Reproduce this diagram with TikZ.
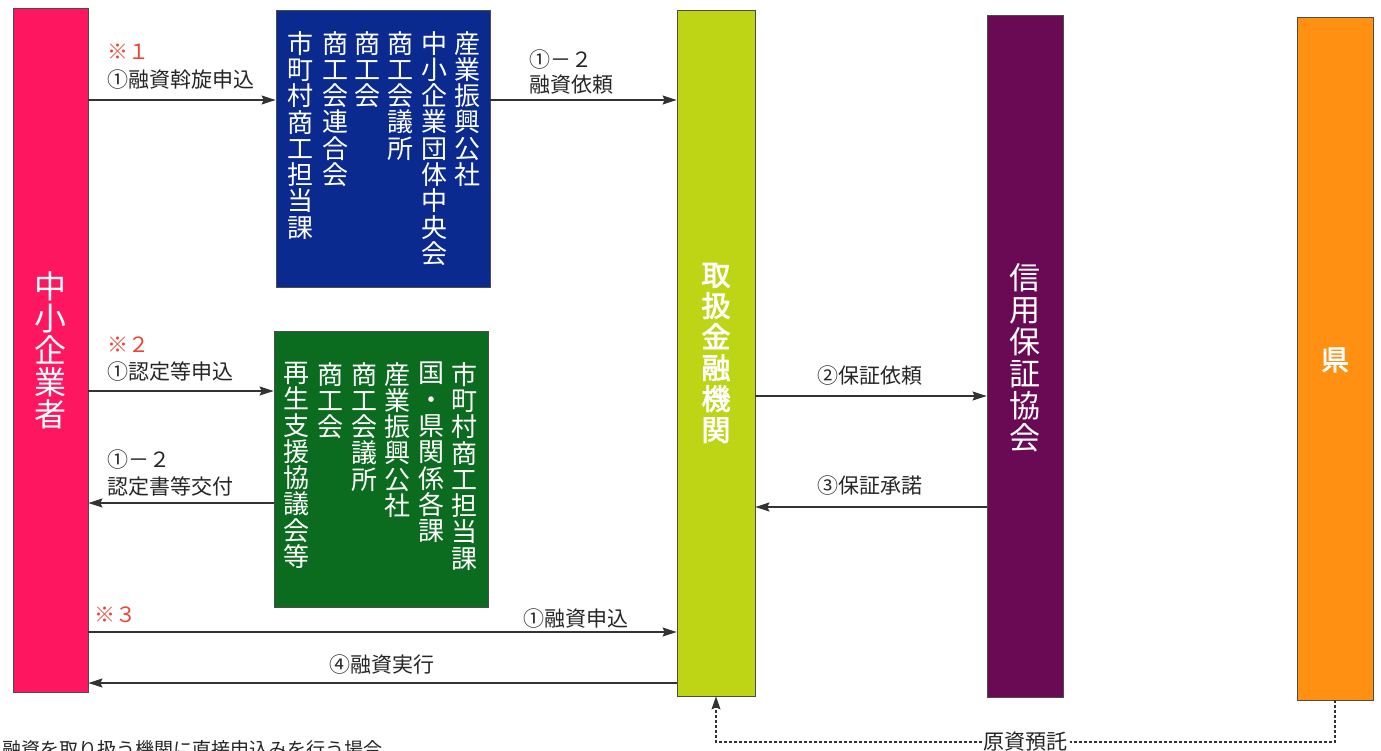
\documentclass[tikz,border=0pt]{standalone}
\usepackage{fontspec}
\newfontfamily\jp{Noto Sans CJK JP}
\newfontfamily\jpb{Noto Sans CJK JP}[FakeBold=2.5]
\usetikzlibrary{arrows.meta}
\definecolor{cpink}{HTML}{FF1660}
\definecolor{cblue}{HTML}{0A2A90}
\definecolor{cgreen}{HTML}{0B6B1F}
\definecolor{clime}{HTML}{BED516}
\definecolor{cpurple}{HTML}{6A0A55}
\definecolor{corange}{HTML}{FF9012}
\definecolor{cred}{HTML}{EE4433}
\definecolor{cline}{HTML}{333333}
\tikzset{
  bar/.style={draw=black!70, line width=0.8pt, rectangle, inner sep=0pt},
  col/.style={text=white, align=center, inner sep=0pt, anchor=north, font=\jp\fontsize{26}{26.3}\selectfont},
  lab/.style={anchor=west, inner sep=0pt, text=black!85, font=\jp\fontsize{21}{24}\selectfont},
  note/.style={anchor=west, inner sep=0pt, text=cred, font=\jp\fontsize{21}{24}\selectfont},
  arr/.style={draw=cline, line width=1.3pt, -{Stealth[length=14pt,width=9pt,inset=2pt]}},
  dsh/.style={draw=cline, line width=1.1pt, dash pattern=on 3pt off 2pt, -{Stealth[length=13pt,width=9pt,inset=2pt]}}
}
\begin{document}
\begin{tikzpicture}[x=1pt,y=-1pt]
\useasboundingbox (0,0) rectangle (1381,750);
\clip (0,0) rectangle (1381,750);
% bars and boxes
\node[bar, fill=cpink, minimum width=75, minimum height=684] (sme) at (50.5,350) {};
\node[bar, fill=cblue, minimum width=214, minimum height=277] (blue) at (383,148.5) {};
\node[bar, fill=cgreen, minimum width=214, minimum height=276] (green) at (381,469) {};
\node[bar, fill=clime, minimum width=78, minimum height=686] (bank) at (716,353) {};
\node[bar, fill=cpurple, minimum width=76, minimum height=682] (guar) at (1025,356) {};
\node[bar, fill=corange, minimum width=76, minimum height=683] (pref) at (1335,358.5) {};
% bar titles
\node[text=white, align=center, inner sep=0pt, font=\jp\fontsize{32}{32}\selectfont] (smet) at (50,350) {中\\小\\企\\業\\者};
\node[text=white, align=center, inner sep=0pt, font=\jpb\fontsize{29}{31}\selectfont] (bankt) at (716,353) {取\\扱\\金\\融\\機\\関};
\node[text=white, align=center, inner sep=0pt, font=\jp\fontsize{31}{32}\selectfont] (guart) at (1025,358) {信\\用\\保\\証\\協\\会};
\node[text=white, inner sep=0pt, font=\jpb\fontsize{28}{28}\selectfont] (preft) at (1335,360) {県};
% blue box columns
\node[col] (b1) at (467,31) {産\\業\\振\\興\\公\\社};
\node[col] (b2) at (434,31) {中\\小\\企\\業\\団\\体\\中\\央\\会};
\node[col] (b3) at (400,31) {商\\工\\会\\議\\所};
\node[col] (b4) at (367,31) {商\\工\\会};
\node[col] (b5) at (335,31) {商\\工\\会\\連\\合\\会};
\node[col] (b6) at (300,31) {市\\町\\村\\商\\工\\担\\当\\課};
% green box columns
\node[col] (g1) at (464,362) {市\\町\\村\\商\\工\\担\\当\\課};
\node[col] (g2) at (431,362) {国\\・\\県\\関\\係\\各\\課};
\node[col] (g3) at (397,362) {産\\業\\振\\興\\公\\社};
\node[col] (g4) at (364,362) {商\\工\\会\\議\\所};
\node[col] (g5) at (330,362) {商\\工\\会};
\node[col] (g6) at (296,362) {再\\生\\支\\援\\協\\議\\会\\等};
% arrow heights
\coordinate (ya) at (0,100);
\coordinate (yb) at (0,391);
\coordinate (yc) at (0,503);
\coordinate (yd) at (0,632);
\coordinate (ye) at (0,683);
\coordinate (yf) at (0,396);
\coordinate (yg) at (0,507);
\coordinate (yh) at (0,742);
% arrows
\draw[arr] (sme.east |- ya) -- (blue.west |- ya);
\draw[arr] (blue.east |- ya) -- (bank.west |- ya);
\draw[arr] (sme.east |- yb) -- (green.west |- yb);
\draw[arr] (green.west |- yc) -- (sme.east |- yc);
\draw[arr] (sme.east |- yd) -- (bank.west |- yd);
\draw[arr] (bank.west |- ye) -- (sme.east |- ye);
\draw[arr] (bank.east |- yf) -- (guar.west |- yf);
\draw[arr] (guar.west |- yg) -- (bank.east |- yg);
\draw[dsh] (pref.south) -- (pref.south |- yh) -- node[fill=white, inner sep=2pt, text=black!85, font=\jp\fontsize{21}{24}\selectfont] (gensi) {原資預託} (bank.south |- yh) -- (bank.south);
% labels
\node[note] (n1) at (107,52) {※１};
\node[lab] (l1) at (107,80) {①融資斡旋申込};
\node[lab] (l2) at (529,60) {①－２};
\node[lab] (l3) at (529,85) {融資依頼};
\node[note] (n2) at (107,345) {※２};
\node[lab] (l4) at (107,372) {①認定等申込};
\node[lab] (l5) at (107,460) {①－２};
\node[lab] (l6) at (107,487) {認定書等交付};
\node[note] (n3) at (94,615) {※３};
\node[lab] (l7) at (523,619) {①融資申込};
\node[lab] (l8) at (329,665) {④融資実行};
\node[lab] (l9) at (817,376) {②保証依頼};
\node[lab] (l10) at (817,486) {③保証承諾};
\node[anchor=north west, inner sep=0pt, text=black!85, font=\jp\fontsize{19}{22}\selectfont] (foot) at (2,740) {融資を取り扱う機関に直接申込みを行う場合};
\end{tikzpicture}
\end{document}
